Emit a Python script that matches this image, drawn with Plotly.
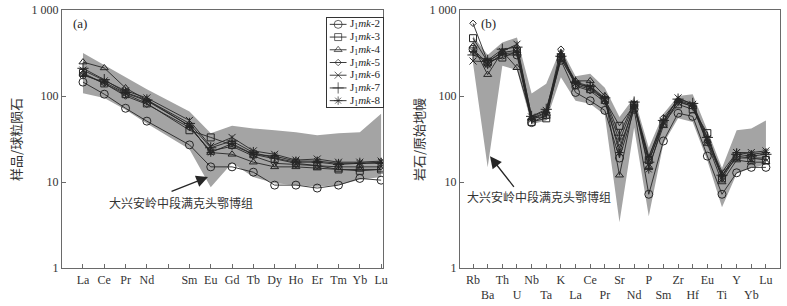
import plotly.graph_objects as go

# ---------------- data ----------------
series_names = ["J<sub>1</sub><i>mk</i>-2", "J<sub>1</sub><i>mk</i>-3", "J<sub>1</sub><i>mk</i>-4",
                "J<sub>1</sub><i>mk</i>-5", "J<sub>1</sub><i>mk</i>-6", "J<sub>1</sub><i>mk</i>-7",
                "J<sub>1</sub><i>mk</i>-8"]

# (a) chondrite-normalised REE (Pm left empty)
ree_labels = ["La", "Ce", "Pr", "Nd", "", "Sm", "Eu", "Gd", "Tb", "Dy", "Ho", "Er", "Tm", "Yb", "Lu"]
ree_mk2 = [145, 105, 72, 51, None, 27, 15, 15, 13, 9.2, 9.2, 8.5, 9.2, 11, 10.5]
ree_mk3 = [185, 140, 105, 82, None, 40, 33, 27, 21, 18.5, 16.5, 15.5, 14, 13.5, 14]
ree_mk4 = [248, 212, 124, 90, None, 45, 22, 21, 17, 15, 15, 14.5, 14, 14, 14]
ree_mk5 = [180, 140, 100, 80, None, 43, 23, 26, 20, 16.5, 16, 15.5, 15, 15, 15]
ree_mk6 = [200, 150, 115, 95, None, 52, 26, 33, 23, 21, 18, 18.5, 17, 17, 17.5]
ree_mk7 = [210, 155, 110, 90, None, 48, 25, 30, 22, 19, 17, 17, 16, 16.5, 16.5]
ree_mk8 = [175, 145, 108, 88, None, 45, 22, 28, 21, 20, 17.5, 17.5, 16.5, 16.5, 17]
ree_band_upper = [316, 230, 165, 120, None, 66, 37, 45, 42, 40, 38, 35, 37, 38, 62]
ree_band_lower = [108, 95, 69, 48, None, 24, 8.7, 16.6, 11.4, 9.7, 9.2, 8.8, 9.2, 10.6, 11.4]

# (b) primitive-mantle-normalised trace elements
spider_labels = ["Rb", "Ba", "Th", "U", "Nb", "Ta", "K", "La", "Ce", "Pr", "Sr",
                 "Nd", "P", "Sm", "Zr", "Hf", "Eu", "Ti", "Y", "Yb", "Lu"]
sp_mk2 = [350, 240, 300, 300, 49, 60, 260, 110, 88, 68, 19, 70, 7.2, 30, 63, 58, 20, 7.2, 12.8, 14.8, 14.8]
sp_mk3 = [470, 250, 280, 330, 50, 55, 280, 135, 120, 90, 45, 78, 18, 48, 80, 70, 37, 11, 20, 19, 18]
sp_mk4 = [380, 177, 330, 213, 55, 58, 300, 150, 150, 100, 12, 80, 15, 45, 88, 75, 28, 10, 18, 17, 17]
sp_mk5 = [700, 250, 320, 340, 55, 65, 350, 130, 115, 85, 25, 75, 19, 56, 90, 78, 30, 12, 19, 19, 19]
sp_mk6 = [255, 250, 330, 400, 57, 68, 270, 140, 125, 90, 30, 82, 20, 50, 95, 80, 32, 13, 22, 22, 23]
sp_mk7 = [300, 260, 350, 370, 58, 70, 290, 145, 130, 95, 35, 85, 17, 52, 92, 82, 33, 12, 21, 20, 21]
sp_mk8 = [330, 230, 310, 320, 53, 64, 310, 140, 128, 92, 22, 80, 14, 50, 85, 76, 29, 11.5, 22, 21, 22]
sp_band_upper = [500, 300, 420, 480, 107, 139, 360, 170, 181, 125, 57, 96, 25, 62, 100, 105, 40, 14.5, 40, 42, 52]
sp_band_lower = [240, 14.8, 225, 200, 47, 52, 165, 88, 81, 60, 3.4, 43, 4.0, 28, 55, 50, 17.8, 5.1, 12.5, 14.5, 16]

ytick_vals = [1, 10, 100, 1000]
ytick_text = ["1", "10", "100", "1 000"]
ytitle_a = "样品/球粒陨石"
ytitle_b = "岩石/原始地幔"
annot_text = "大兴安岭中段满克头鄂博组"

# ---------------- styles ----------------
symbols = ["circle-open", "square-open", "triangle-up-open", "diamond-open",
           "x-thin-open", "cross-thin-open", "asterisk-open"]
msizes = [8, 7, 7, 5, 7, 8, 7]
INK = "#262626"
BAND = "#a4a4a4"
AXC = "#6a6a6a"
SERIF = "Liberation Serif, Times New Roman, serif"
CJK = "Noto Sans CJK SC, sans-serif"

ree_series = [ree_mk2, ree_mk3, ree_mk4, ree_mk5, ree_mk6, ree_mk7, ree_mk8]
sp_series = [sp_mk2, sp_mk3, sp_mk4, sp_mk5, sp_mk6, sp_mk7, sp_mk8]

fig = go.Figure()


def add_band(labels, upper, lower, xa, ya):
    xs = [i for i in range(len(labels)) if upper[i] is not None]
    up = [upper[i] for i in xs]
    lo = [lower[i] for i in xs]
    fig.add_trace(go.Scatter(x=xs + xs[::-1], y=up + lo[::-1], fill="toself",
                             fillcolor=BAND, line=dict(width=0), mode="lines",
                             hoverinfo="skip", showlegend=False, xaxis=xa, yaxis=ya))


add_band(ree_labels, ree_band_upper, ree_band_lower, "x", "y")
add_band(spider_labels, sp_band_upper, sp_band_lower, "x2", "y2")

for k in range(len(series_names)):
    for labels, vals, xa, ya in [(ree_labels, ree_series[k], "x", "y"),
                                 (spider_labels, sp_series[k], "x2", "y2")]:
        fig.add_trace(go.Scatter(
            x=list(range(len(labels))), y=vals, mode="lines+markers", connectgaps=True,
            line=dict(color=INK, width=0.9),
            marker=dict(symbol=symbols[k], size=msizes[k], color=INK,
                        line=dict(color=INK, width=1)),
            showlegend=False, xaxis=xa, yaxis=ya, name=series_names[k]))

# custom compact legend (own little axis, one row per series)
for k in range(len(series_names)):
    fig.add_trace(go.Scatter(
        x=[0.05, 0.2, 0.35], y=[k + 0.5] * 3, mode="lines+markers",
        line=dict(color=INK, width=0.9),
        marker=dict(symbol=symbols[k], size=[0, msizes[k], 0], color=INK,
                    line=dict(color=INK, width=1)),
        showlegend=False, hoverinfo="skip", xaxis="x3", yaxis="y3"))
    fig.add_annotation(x=0.38, y=k + 0.5, xref="x3", yref="y3", text=series_names[k],
                       showarrow=False, xanchor="left", yanchor="middle",
                       font=dict(family=SERIF, size=11, color=INK))

axis_common = dict(showgrid=False, zeroline=False, showline=True, mirror=True,
                   linecolor=AXC, linewidth=1.3, ticks="inside", ticklen=4,
                   tickwidth=1, tickcolor=AXC, tickangle=0, automargin=False,
                   tickfont=dict(family=SERIF, size=12, color="#333"))

sp_ticktext = [lab if i % 2 == 0 else "<br>" + lab for i, lab in enumerate(spider_labels)]

fig.update_layout(
    width=787, height=306, margin=dict(l=62, r=7, t=10, b=38, autoexpand=False),
    paper_bgcolor="white", plot_bgcolor="white", showlegend=False,
    xaxis=dict(domain=[0, 0.4471], range=[-0.985, 14.09], tickvals=list(range(len(ree_labels))),
               ticktext=ree_labels, anchor="y", **axis_common),
    yaxis=dict(type="log", range=[0, 3], tickvals=ytick_vals, ticktext=ytick_text, anchor="x",
               **axis_common),
    xaxis2=dict(domain=[0.5543, 1], range=[-0.89, 20.96], tickvals=list(range(len(spider_labels))),
                ticktext=sp_ticktext, anchor="y2", **axis_common),
    yaxis2=dict(type="log", range=[0, 3], tickvals=ytick_vals, ticktext=ytick_text, anchor="x2",
                **axis_common),
    xaxis3=dict(domain=[0.369, 0.447], range=[0, 1], anchor="y3", showgrid=False, zeroline=False,
                showticklabels=False, ticks="", showline=True, mirror=True, linecolor="#333",
                linewidth=1, fixedrange=True, automargin=False),
    yaxis3=dict(domain=[0.624, 0.969], range=[7, 0], anchor="x3", showgrid=False, zeroline=False,
                showticklabels=False, ticks="", showline=True, mirror=True, linecolor="#333",
                linewidth=1, fixedrange=True, automargin=False),
)

# y-axis titles
fig.add_annotation(x=-0.0655, y=0.5, xref="paper", yref="paper", text=ytitle_a, textangle=-90,
                   showarrow=False, xanchor="center", yanchor="middle",
                   font=dict(family=CJK, size=13, color="#333"))
fig.add_annotation(x=0.4958, y=0.5, xref="paper", yref="paper", text=ytitle_b, textangle=-90,
                   showarrow=False, xanchor="center", yanchor="middle",
                   font=dict(family=CJK, size=13, color="#333"))

# panel labels
fig.add_annotation(x=0.0125, y=0.946, xref="paper", yref="paper", text="(a)", showarrow=False,
                   xanchor="left", yanchor="middle", font=dict(family=SERIF, size=13, color=INK))
fig.add_annotation(x=0.581, y=0.949, xref="paper", yref="paper", text="(b)", showarrow=False,
                   xanchor="left", yanchor="middle", font=dict(family=SERIF, size=13, color=INK))

# labelled arrows
fig.add_annotation(x=4.6, y=0.767, xref="x", yref="y", text=annot_text, showarrow=False,
                   font=dict(family=CJK, size=12, color="#333"))
fig.add_annotation(x=5.87, y=1.058, ax=4.09, ay=0.884, xref="x", yref="y", axref="x", ayref="y",
                   text="", showarrow=True, arrowhead=2, arrowsize=1.8, arrowwidth=1.3, arrowcolor=INK)
fig.add_annotation(x=4.5, y=0.834, xref="x2", yref="y2", text=annot_text, showarrow=False,
                   font=dict(family=CJK, size=12, color="#333"))
fig.add_annotation(x=1.16, y=1.298, ax=2.87, ay=0.927, xref="x2", yref="y2", axref="x2", ayref="y2",
                   text="", showarrow=True, arrowhead=2, arrowsize=1.8, arrowwidth=1.3, arrowcolor=INK)

fig.write_html("out.html", config={"displayModeBar": False},
               post_script="document.body.style.margin='0px';")
